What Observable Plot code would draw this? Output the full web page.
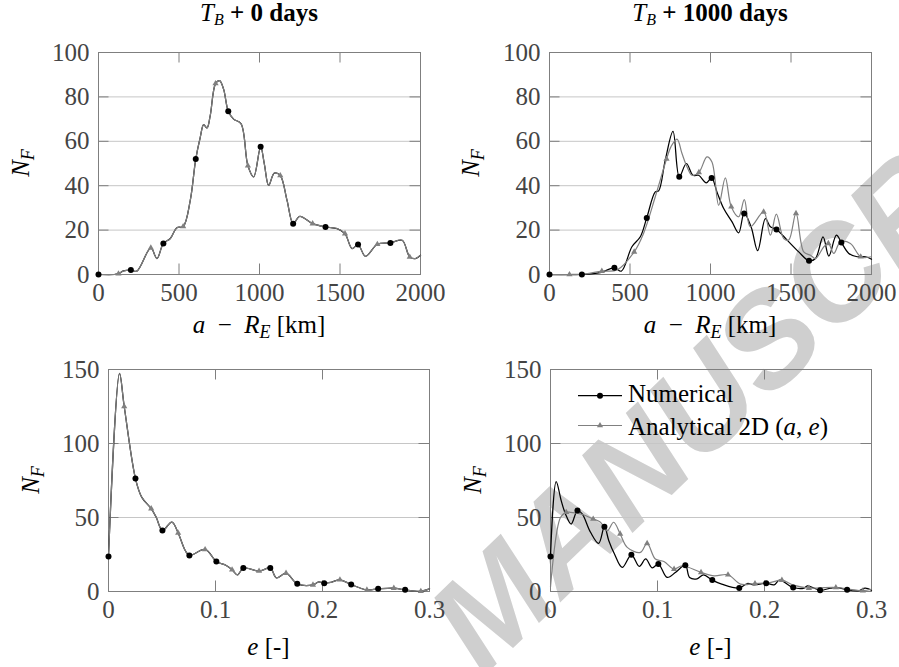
<!DOCTYPE html>
<html>
<head>
<meta charset="utf-8">
<script src="https://cdn.jsdelivr.net/npm/d3@7"></script>
<script src="https://cdn.jsdelivr.net/npm/@observablehq/plot@0.6"></script>
<style>
  html, body { margin: 0; padding: 0; background: #fff; }
  #wrap { position: relative; width: 899px; height: 667px; overflow: hidden; background: #fff; }
  #wrap svg { position: absolute; }
  .panel, .panel text { font-family: "Liberation Serif", "Times New Roman", serif !important; }
  .lbl { font-family: "Liberation Serif", "Times New Roman", serif; font-size: 25px; fill: #000; white-space: pre; }
  .wm { font-family: "Liberation Sans", Arial, sans-serif; font-weight: bold; font-style: italic; font-size: 132px; fill: #cfcfcf; white-space: pre; }
</style>
</head>
<body>
<div id="wrap">
  <svg id="watermark" width="899" height="667" style="left:0;top:0;z-index:0">
    <text class="wm" transform="translate(483,677) rotate(-44)">MANUSCRIPT</text>
  </svg>
</div>
<script>
// ---------- tick values ----------
const aTicks = [0, 500, 1000, 1500, 2000];
const eTicks = [0, 0.1, 0.2, 0.3];
const nfTicksTop = [0, 20, 40, 60, 80, 100];
const nfTicksBottom = [0, 50, 100, 150];

// ---------- data: [x, N_F, marker] ; marker "d" = Numerical dot, "t" = Analytical triangle ----------
// T_B + 0 days, a - R_E (both series coincide)
const a0 = [[0,0,"d"],[100,0],[124,0.3,"t"],[155,1.6],[201,2,"d"],[238,1.5],[325,12,"t"],[363,7.2],[403,14,"d"],[446,16.2],[487,21.1],[526,21.6,"t"],[570,33.4],[604,52,"d"],[632,61.8],[653,67.5],[674,66],[694,71.6],[727,86,"t"],[752,87.3],[777,83.5],[806,73.5,"d"],[839,70],[885,68],[928,49,"t"],[964,44],[1007,57.6,"d"],[1030,49.8],[1057,40.1],[1092,45.7],[1129,44.6,"t"],[1171,33.4],[1209,22.9,"d"],[1250,26.2],[1330,22.9,"t"],[1410,21.4,"d"],[1482,20.7],[1531,18.4,"t"],[1575,11.7],[1612,13.5,"d"],[1658,8.2],[1732,13.6,"t"],[1813,14.2,"d"],[1886,15.4],[1933,7.9,"t"],[1969,7.2],[2000,8.7]];

// T_B + 1000 days, a - R_E
const a1000Num = [[0,0,"d"],[100,0],[201,0,"d"],[315,0.8],[403,3,"d"],[446,1.5],[512,12.5],[564,17],[604,25.5,"d"],[657,37.2],[678,37.7],[719,51.5],[767,64.5],[806,44,"d"],[850,50],[891,44.7],[926,44.7],[974,41.3],[1007,43.5,"d"],[1040,37.2],[1082,29.7],[1134,23.7],[1175,18.8],[1209,27.5,"d"],[1252,21.5],[1293,10.7],[1341,25.2],[1372,21.5],[1410,20.3,"d"],[1476,15.5],[1548,10.2],[1612,6.2,"d"],[1652,7.2],[1699,17],[1735,8.3],[1782,17.7],[1813,14.4,"d"],[1859,9.5],[1911,8],[1963,8],[2000,6.9]];
const a1000Ana = [[0,0],[124,0,"t"],[225,0.3],[325,1.5,"t"],[419,2],[526,10.2,"t"],[584,18.5],[657,35],[727,52,"t"],[754,57.5],[792,61],[823,54.5],[854,48.5],[885,44.7],[928,46,"t"],[978,53],[1009,50.7],[1051,31.2],[1092,43.5],[1129,30.5,"t"],[1175,26],[1210,33.7],[1248,21.5],[1330,28.2,"t"],[1372,17.7],[1409,27.2],[1455,16.2],[1486,15.5],[1531,27.5,"t"],[1579,10.2],[1621,8.7],[1652,7.2],[1704,12.5],[1732,14,"t"],[1766,9.5],[1807,14.7],[1869,14],[1933,8,"t"],[2000,8]];

// T_B + 0 days, e (both series coincide)
const e0 = [[0,23.7,"d"],[0.0103,147.3],[0.0147,125,"t"],[0.0252,76.3,"d"],[0.031,63.8],[0.0399,56,"t"],[0.0445,50.3],[0.0504,41.3,"d"],[0.0592,46.9],[0.0651,39.5,"t"],[0.0717,27.7],[0.0756,24.4,"d"],[0.0903,28.4,"t"],[0.1008,20.3,"d"],[0.11,17.6],[0.1155,14.7,"t"],[0.1206,11.3],[0.126,15.8,"d"],[0.1407,13.8,"t"],[0.1512,15.8,"d"],[0.157,9.2],[0.1659,12.4,"t"],[0.1764,5.2,"d"],[0.1911,4.5,"t"],[0.1965,6.5],[0.2016,5.6,"d"],[0.208,6.2],[0.2163,7.9,"t"],[0.2268,4.7,"d"],[0.2415,1.1,"t"],[0.252,1.8,"d"],[0.2667,2.3,"t"],[0.2772,1.1,"d"],[0.2919,0.2,"t"],[0.3,1.8]];

// T_B + 1000 days, e
const e1000Num = [[0,23.7,"d"],[0.0053,74.3],[0.01,61.4],[0.014,52.4],[0.0193,45.6],[0.0252,54.7,"d"],[0.0296,52.4],[0.0374,40],[0.045,32.5],[0.0504,43.8,"d"],[0.0545,34.3],[0.0598,25.3],[0.067,16.3],[0.0756,24.8,"d"],[0.083,17],[0.089,22],[0.095,16],[0.1008,18.5,"d"],[0.109,9.5],[0.117,13],[0.126,17.8,"d"],[0.13,9.5],[0.137,8.6],[0.143,11.3],[0.1512,7.7,"d"],[0.16,5],[0.1764,2.3,"d"],[0.184,5.4],[0.19,4.5],[0.2016,5.6,"d"],[0.209,4.5],[0.214,7.7],[0.2268,2.7,"d"],[0.237,2.3],[0.24,3.8],[0.252,0.9,"d"],[0.262,2.3],[0.268,2.7],[0.2772,1.1,"d"],[0.288,0.5],[0.294,2.3],[0.3,0.9]];
const e1000Ana = [[0,3],[0.0093,50],[0.0147,53.5,"t"],[0.0187,53.5],[0.03,52],[0.0399,49,"t"],[0.0467,46.8],[0.053,41],[0.059,46.8],[0.0651,38.9,"t"],[0.0717,29.8],[0.084,26.4],[0.0903,32.5,"t"],[0.098,21.9],[0.106,20.3],[0.1155,15.1,"t"],[0.123,17.4],[0.1407,12.9,"t"],[0.153,10.6],[0.1659,11.3,"t"],[0.1776,5],[0.1911,5.4,"t"],[0.205,6],[0.2163,7.7,"t"],[0.227,4.3],[0.2415,2.3,"t"],[0.252,2.5],[0.2667,2.7,"t"],[0.28,1.5],[0.2919,0.5,"t"],[0.3,1.5]];

const FONT = '"Liberation Serif", "Times New Roman", serif';
const FRAME = "#7f7f7f", GRID = "#c6c6c6", GRAY = "#808080";

function panel({num, ana, xDomain, yDomain, xTicks, yTicks, left, top, width, height, ml, mr, mt, mb}) {
  const plotH = height - mt - mb, plotW = width - ml - mr;
  const tLen = 10.5;
  const ty = tLen / plotH * (yDomain[1] - yDomain[0]);
  const tx = tLen / plotW * (xDomain[1] - xDomain[0]);
  const xInner = xTicks.slice(1, -1), yInner = yTicks.slice(1, -1);
  const toObj = arr => arr.map(([x, y, m]) => ({x, y, m}));
  const N = toObj(num), A = toObj(ana);
  const svg = Plot.plot({
    width, height, marginLeft: ml, marginRight: mr, marginTop: mt, marginBottom: mb,
    x: {domain: xDomain}, y: {domain: yDomain},
    style: {fontFamily: FONT, fontSize: "25px", color: "#444", background: "transparent", overflow: "visible"},
    marks: [
      Plot.ruleY(yInner, {stroke: GRID, strokeWidth: 1}),
      Plot.ruleY(yInner, {x1: xDomain[0], x2: xDomain[0] + tx, stroke: FRAME}),
      Plot.ruleY(yInner, {x1: xDomain[1] - tx, x2: xDomain[1], stroke: FRAME}),
      Plot.ruleX(xInner, {y1: yDomain[0], y2: yDomain[0] + ty, stroke: FRAME}),
      Plot.ruleX(xInner, {y1: yDomain[1] - ty, y2: yDomain[1], stroke: FRAME}),
      Plot.frame({stroke: FRAME}),
      Plot.line(N, {x: "x", y: "y", stroke: "#000", strokeWidth: 1.25, curve: "catmull-rom"}),
      Plot.line(A, {x: "x", y: "y", stroke: GRAY, strokeWidth: 1.2, curve: "catmull-rom"}),
      Plot.dot(N.filter(d => d.m === "d"), {x: "x", y: "y", r: 3, fill: "#000"}),
      Plot.dot(A.filter(d => d.m === "t"), {x: "x", y: "y", r: 2.3, symbol: "triangle", fill: GRAY}),
      Plot.axisX({ticks: xTicks, anchor: "bottom", tickSize: 0, tickPadding: 9, tickFormat: d => String(d), label: null}),
      Plot.axisY({ticks: yTicks, anchor: "left", tickSize: 0, tickPadding: 9, tickFormat: d => String(d), label: null})
    ]
  });
  svg.classList.add("panel");
  svg.style.left = left + "px";
  svg.style.top = top + "px";
  svg.style.zIndex = 1;
  return svg;
}

const wrap = document.getElementById("wrap");
wrap.appendChild(panel({num: a0, ana: a0, xDomain: [0, 2000], yDomain: [0, 100], xTicks: aTicks, yTicks: nfTicksTop,
  left: 0, top: 0, width: 450, height: 310, ml: 98, mr: 30, mt: 52, mb: 36}));
wrap.appendChild(panel({num: a1000Num, ana: a1000Ana, xDomain: [0, 2000], yDomain: [0, 100], xTicks: aTicks, yTicks: nfTicksTop,
  left: 450, top: 0, width: 449, height: 310, ml: 99, mr: 28, mt: 52, mb: 36}));
wrap.appendChild(panel({num: e0, ana: e0, xDomain: [0, 0.3], yDomain: [0, 150], xTicks: eTicks, yTicks: nfTicksBottom,
  left: 0, top: 317, width: 450, height: 310, ml: 108, mr: 21, mt: 52, mb: 36}));
wrap.appendChild(panel({num: e1000Num, ana: e1000Ana, xDomain: [0, 0.3], yDomain: [0, 150], xTicks: eTicks, yTicks: nfTicksBottom,
  left: 450, top: 317, width: 449, height: 310, ml: 100, mr: 28, mt: 52, mb: 36}));

// ---------- text annotations ----------
const ns = "http://www.w3.org/2000/svg";
const ann = document.createElementNS(ns, "svg");
ann.setAttribute("width", 899); ann.setAttribute("height", 667);
ann.style.left = "0px"; ann.style.top = "0px"; ann.style.zIndex = 2;
const it = s => `<tspan font-style="italic">${s}</tspan>`;
const sub = s => `<tspan font-style="italic" font-size="18" dy="5">${s}</tspan><tspan dy="-5">`;
const title = (x, days) => `<text class="lbl" x="${x}" y="21" text-anchor="middle" font-size="23">${it("T")}<tspan font-style="italic" font-size="16" dy="4">B</tspan><tspan dy="-4" font-weight="bold"> + ${days} days</tspan></text>`;
const nf = (x, y) => `<text class="lbl" text-anchor="middle" transform="translate(${x},${y}) rotate(-90)">${it("N")}${sub("F")}</tspan></text>`;
const aLabel = x => `<text class="lbl" x="${x}" y="333" text-anchor="middle">${it("a")}  −  ${it("R")}${sub("E")} [km]</tspan></text>`;
const eLabel = x => `<text class="lbl" x="${x}" y="655" text-anchor="middle">${it("e")} [-]</text>`;
ann.innerHTML = [
  title(259, "0"), title(710, "1000"),
  nf(29, 163), nf(479, 163), nf(39, 480), nf(481, 480),
  aLabel(259), aLabel(710), eLabel(268.5), eLabel(710.5),
  `<line x1="578" x2="622" y1="395.7" y2="395.7" stroke="#000" stroke-width="1.25"/>`,
  `<circle cx="600" cy="395.7" r="3" fill="#000"/>`,
  `<text class="lbl" x="628" y="402">Numerical</text>`,
  `<line x1="578" x2="622" y1="425.5" y2="425.5" stroke="${GRAY}" stroke-width="1.2"/>`,
  `<path transform="translate(600,425.5)" d="${d3.symbol(d3.symbolTriangle, Math.PI * 2.3 * 2.3)()}" fill="${GRAY}"/>`,
  `<text class="lbl" x="628" y="435">Analytical 2D (${it("a")}, ${it("e")})</text>`
].join("");
wrap.appendChild(ann);
</script>
</body>
</html>
